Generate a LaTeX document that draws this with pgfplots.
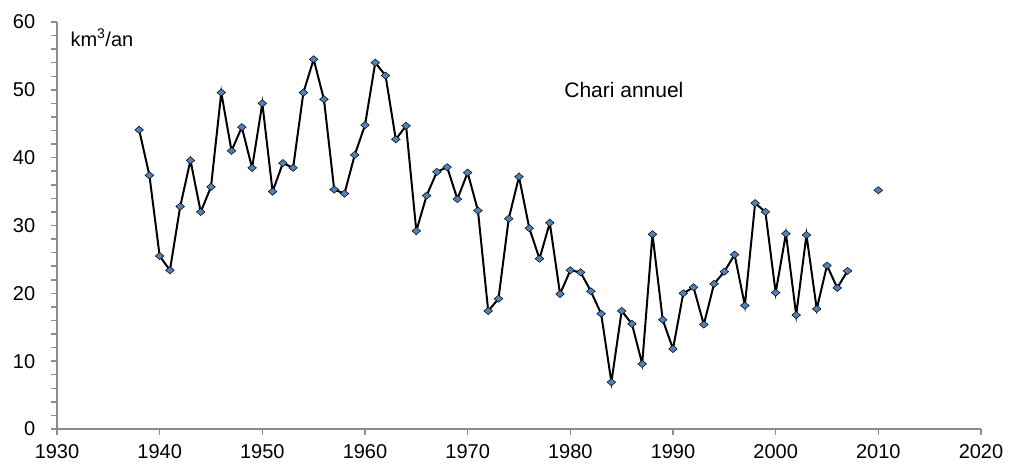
\documentclass[border=0pt]{standalone}
\usepackage{fontspec}
\setmainfont{Liberation Sans}
\usepackage{pgfplots}
\pgfplotsset{compat=1.18}
\definecolor{mk}{HTML}{4F81BD}
\definecolor{ax}{HTML}{8C8C8C}
\begin{document}
\fontsize{20}{23}\selectfont
\begin{tikzpicture}
\begin{axis}[
  at={(0,0)}, anchor=south west,
  scale only axis, width=924pt, height=407pt,
  xmin=1930, xmax=2020, ymin=0, ymax=60,
  axis lines=left,
  axis line style={draw=ax, line width=2pt, -},
  xtick={1930,1940,...,2020},
  ytick={0,10,...,60},
  minor y tick num=4,
  tick align=outside,
  major tick length=6pt, minor tick length=6pt,
  tick style={draw=ax, line width=1.5pt},
  x tick label style={/pgf/number format/1000 sep={}, yshift=-3pt},
  y tick label style={xshift=-9pt},
  /pgf/number format/assume math mode=true,
  ticklabel style={font=\fontsize{20}{23}\selectfont},
  clip=false,
]
\addplot[black, line width=2pt, mark=diamond*, mark size=3.6pt,
  mark options={fill=mk, draw=black, line width=0.5pt, xscale=1.6}] coordinates {
(1938,44.1)(1939,37.4)(1940,25.5)(1941,23.4)(1942,32.8)(1943,39.6)(1944,32.0)
(1945,35.7)(1946,49.6)(1947,41.0)(1948,44.5)(1949,38.5)(1950,48.0)(1951,35.0)
(1952,39.2)(1953,38.5)(1954,49.6)(1955,54.5)(1956,48.6)(1957,35.3)(1958,34.7)
(1959,40.4)(1960,44.8)(1961,54.0)(1962,52.1)(1963,42.7)(1964,44.7)(1965,29.2)
(1966,34.4)(1967,37.9)(1968,38.6)(1969,33.9)(1970,37.8)(1971,32.2)(1972,17.4)
(1973,19.2)(1974,31.0)(1975,37.2)(1976,29.6)(1977,25.1)(1978,30.4)(1979,19.9)
(1980,23.4)(1981,23.1)(1982,20.3)(1983,17.0)(1984,6.9)(1985,17.4)(1986,15.5)
(1987,9.6)(1988,28.7)(1989,16.1)(1990,11.8)(1991,20.0)(1992,20.9)(1993,15.4)
(1994,21.4)(1995,23.2)(1996,25.7)(1997,18.2)(1998,33.3)(1999,32.0)(2000,20.1)
(2001,28.8)(2002,16.8)(2003,28.6)(2004,17.7)(2005,24.1)(2006,20.8)(2007,23.3)
};
\addplot[only marks, mark=diamond*, mark size=3.6pt,
  mark options={fill=mk, draw=black, line width=0.5pt, xscale=1.6}] coordinates {(2010,35.2)};
\node[anchor=west, inner sep=0pt] at (axis cs:1979.4,50) {\fontsize{21}{23}\selectfont Chari annuel};
\node[anchor=west, inner sep=0pt] at (axis cs:1931.3,57.7) {km\textsuperscript{3}/an};
\end{axis}
\pgfresetboundingbox
\path (-57pt,-36pt) rectangle (956pt,429pt);
\end{tikzpicture}
\end{document}
